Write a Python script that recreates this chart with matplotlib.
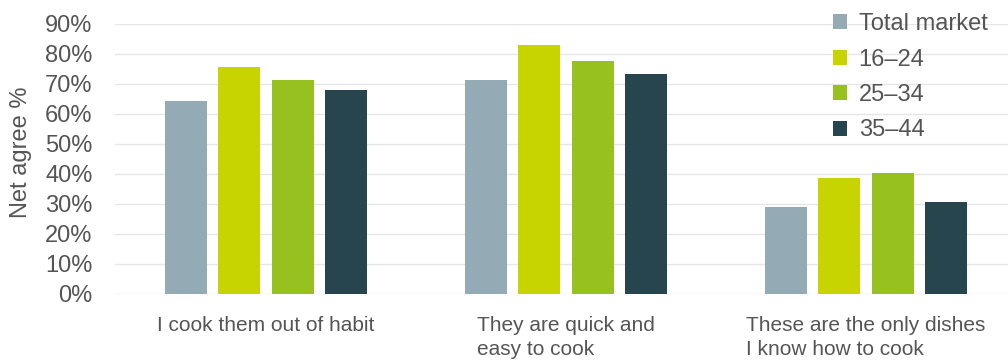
import numpy as np
import matplotlib
matplotlib.use('agg')
import matplotlib.pyplot as plt

# Chart data
categories = ['I cook them out of habit', 'They are quick and\neasy to cook',
              'These are the only dishes\nI know how to cook']
series_names = ['Total market', '16\u201324', '25\u201334', '35\u201344']
total_market = [64.3, 71.3, 28.9]
age_16_24 = [75.8, 82.9, 38.7]
age_25_34 = [71.3, 77.7, 40.3]
age_35_44 = [67.9, 73.3, 30.7]
y_ticks = [0, 10, 20, 30, 40, 50, 60, 70, 80, 90]

series = [total_market, age_16_24, age_25_34, age_35_44]
colors = ['#94abb6', '#c8d400', '#96c11f', '#27454f']
text_col = '#555555'

plt.rcParams['font.family'] = ['Liberation Sans', 'DejaVu Sans']

fig = plt.figure(figsize=(10.08, 3.62), dpi=100)
# axes runs a little past the right edge so the groups sit where they do in the original
ax = fig.add_axes([0.114, 0.188, 0.893, 0.746])

x = np.arange(len(categories))
pitch = 0.178
width = 0.14
for i, (vals, name, c) in enumerate(zip(series, series_names, colors)):
    ax.bar(x + (i - 1.5) * pitch, vals, width, color=c, label=name, zorder=3)

ax.set_xlim(-0.503, 2.497)
ax.set_ylim(0, 90)
ax.set_yticks(y_ticks)
ax.set_yticklabels(['%d%%' % t for t in y_ticks])
ax.set_xticks(x)
ax.set_xticklabels(categories, multialignment='left', linespacing=1.35)
ax.tick_params(axis='y', length=0, pad=16, labelsize=17, labelcolor=text_col)
ax.tick_params(axis='x', length=0, pad=16, labelsize=15, labelcolor=text_col)
ax.yaxis.grid(True, color='#e6e6e6', lw=1, zorder=0)
ax.set_axisbelow(True)
for s in ax.spines.values():
    s.set_visible(False)
ax.set_ylabel('Net agree %', fontsize=17, color=text_col)
ax.yaxis.set_label_coords(-0.092, 0.526)

ax.legend(loc='upper right', bbox_to_anchor=(0.989, 0.99), bbox_transform=fig.transFigure,
          frameon=False, fontsize=17, labelcolor=text_col, handlelength=0.6,
          handleheight=0.6, handletextpad=0.5, labelspacing=0.57, borderaxespad=0)

fig.savefig('out.png', dpi=100)
